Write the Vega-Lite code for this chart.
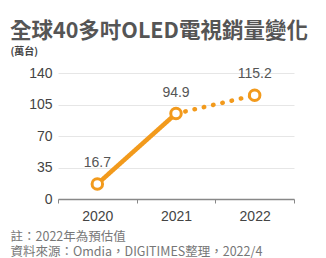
{
  "$schema": "https://vega.github.io/schema/vega-lite/v6.json",
  "autosize": {"type": "none"},
  "width": 236,
  "height": 126,
  "padding": {"left": 58, "top": 73, "right": 32, "bottom": 59},
  "background": "white",
  "config": {
    "view": {"stroke": null},
    "font": "Noto Sans CJK TC"
  },
  "title": {
    "text": "全球40多吋OLED電視銷量變化",
    "anchor": "start",
    "frame": "group",
    "dx": -48,
    "offset": 3.5,
    "fontSize": 21.5,
    "fontWeight": "bold",
    "color": "#555555",
    "font": "Noto Sans CJK TC"
  },
  "data": {
    "values": [
      {"year": "2020", "value": 16.7, "seg": "actual"},
      {"year": "2021", "value": 94.9, "seg": "actual"},
      {"year": "2021", "value": 94.9, "seg": "forecast"},
      {"year": "2022", "value": 115.2, "seg": "forecast"}
    ]
  },
  "encoding": {
    "x": {
      "field": "year",
      "type": "ordinal",
      "scale": {"type": "band", "paddingInner": 0, "paddingOuter": 0},
      "axis": {
        "title": ["註：2022年為預估值", "資料來源：Omdia，DIGITIMES整理，2022/4"],
        "titleAnchor": "start",
        "titleAlign": "left",
        "titleX": -48,
        "titleY": 41,
        "titleBaseline": "alphabetic",
        "titleFontSize": 12.5,
        "titleFontWeight": "normal",
        "titleColor": "#777777",
        "titleLineHeight": 15,
        "labelAngle": 0,
        "labelFontSize": 14,
        "labelColor": "#444444",
        "labelFont": "Liberation Sans",
        "labelPadding": 6,
        "tickBand": "extent",
        "tickSize": 4,
        "tickColor": "#888888",
        "domainColor": "#888888",
        "domainWidth": 1.5,
        "grid": false
      }
    },
    "y": {
      "field": "value",
      "type": "quantitative",
      "scale": {"domain": [0, 140], "nice": false},
      "axis": {
        "values": [0, 35, 70, 105, 140],
        "title": "(萬台)",
        "titleAngle": 0,
        "titleX": -48,
        "titleY": -22,
        "titleAlign": "left",
        "titleBaseline": "middle",
        "titleFontSize": 10,
        "titleFontWeight": "bold",
        "titleColor": "#444444",
        "labelFontSize": 14,
        "labelColor": "#444444",
        "labelFont": "Liberation Sans",
        "labelPadding": 6,
        "domain": false,
        "ticks": false,
        "gridColor": "#e6e6e6",
        "gridWidth": 1
      }
    }
  },
  "layer": [
    {
      "mark": {"type": "line", "color": "#F29A1C", "strokeCap": "round", "strokeWidth": 4.5},
      "encoding": {
        "detail": {"field": "seg"},
        "strokeDash": {
          "field": "seg",
          "type": "nominal",
          "scale": {"domain": ["actual", "forecast"], "range": [[1, 0], [0.5, 9]]},
          "legend": null
        }
      }
    },
    {
      "transform": [{"filter": "datum.seg == 'actual' || datum.year == '2022'"}],
      "mark": {"type": "point", "filled": true, "fill": "white", "stroke": "#F29A1C", "strokeWidth": 3, "size": 110, "opacity": 1},
      "encoding": {}
    },
    {
      "transform": [{"filter": "datum.seg == 'actual' || datum.year == '2022'"}],
      "mark": {"type": "text", "dy": -21, "fontSize": 14, "color": "#555555", "font": "Liberation Sans"},
      "encoding": {"text": {"field": "value", "type": "quantitative", "format": ".1f"}}
    }
  ]
}
